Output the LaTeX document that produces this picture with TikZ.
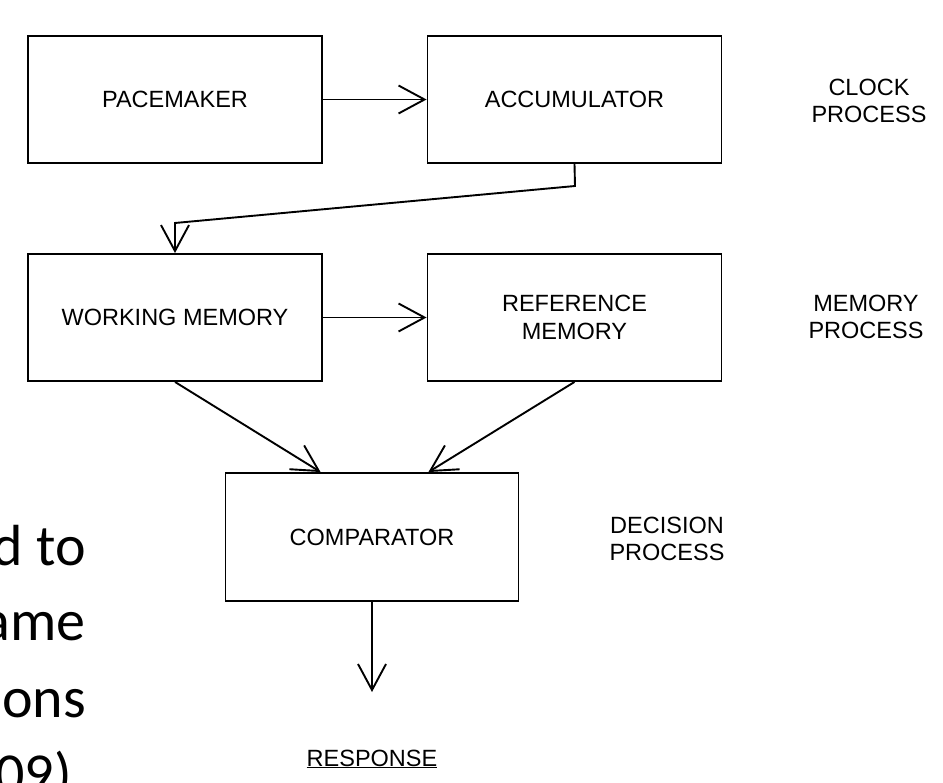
\documentclass[tikz,border=0pt]{standalone}
\usepackage{fontspec}
\setmainfont{Liberation Sans}
\newfontfamily\calib{Carlito}
\usetikzlibrary{arrows.meta}
\begin{document}
\begin{tikzpicture}[x=1pt,y=-1pt,
  box/.style={draw, line width=1.9pt, minimum width=294pt, minimum height=127pt, inner sep=0pt,
    font=\fontsize{23.5}{28}\selectfont, align=center},
  lbl/.style={font=\fontsize{23.5}{27}\selectfont, align=center, inner sep=0pt},
  conn/.style={line width=1.9pt, -{Straight Barb[length=26pt,width=28pt,line width=1.9pt]}},
  side/.style={font=\calib\fontsize{58}{76}\selectfont, anchor=base east, inner sep=0pt}]
\useasboundingbox (0,0) rectangle (943,783);
\clip (0,0) rectangle (943,783);
% boxes
\node[box] (pace) at (175,99.5) {PACEMAKER};
\node[box] (acc) at (574.5,99.5) {ACCUMULATOR};
\node[box] (wm) at (175,317.5) {WORKING MEMORY};
\node[box] (rm) at (574.5,317.5) {REFERENCE\\MEMORY};
\node[box, minimum width=293pt, minimum height=128pt] (comp) at (372,537) {COMPARATOR};
% side labels
\node[lbl] (clock) at (869,101) {CLOCK\\PROCESS};
\node[lbl] (memp) at (866,317) {MEMORY\\PROCESS};
\node[lbl] (decp) at (667,539) {DECISION\\PROCESS};
\node[lbl, anchor=base] (resp) at (372,766) {\underline{RESPONSE}};
% partial slide text
\node[side] (t1) at (86,565) {d to};
\node[side] (t2) at (86,640) {ame};
\node[side] (t3) at (86,717) {ons};
\node[side] (t4) at (72,793) {09)};
% connectors
\coordinate (b1) at (575,186);
\coordinate (b2) at (175,223);
\coordinate (out) at (372,692);
\draw[conn] (pace.east) -- (acc.west);
\draw[conn] (wm.east) -- (rm.west);
\draw[conn] (acc.south) -- (b1) -- (b2) -- (wm.north);
\draw[conn] (wm.south) -- ([xshift=96pt]comp.north west);
\draw[conn] (rm.south) -- ([xshift=-91pt]comp.north east);
\draw[conn] (comp.south) -- (out);
\end{tikzpicture}
\end{document}
